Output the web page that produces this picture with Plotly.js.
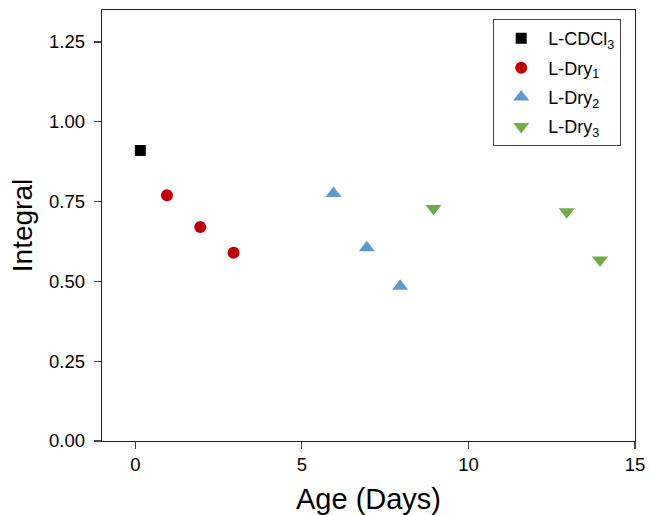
<!DOCTYPE html>
<html>
<head>
<meta charset="utf-8">
<script src="https://cdn.plot.ly/plotly-3.0.1.min.js"></script>
<style>html,body{margin:0;padding:0;background:#fff;}#chart{width:650px;height:515px;}</style>
</head>
<body>
<div id="chart"></div>
<script>
const seriesNames = ["L-CDCl<sub>3</sub>", "L-Dry<sub>1</sub>", "L-Dry<sub>2</sub>", "L-Dry<sub>3</sub>"];
const cdclAge = [0.15];
const cdclIntegral = [0.91];
const dry1Age = [0.95, 1.95, 2.95];
const dry1Integral = [0.77, 0.67, 0.59];
const dry2Age = [5.95, 6.95, 7.95];
const dry2Integral = [0.775, 0.605, 0.485];
const dry3Age = [8.95, 12.95, 13.95];
const dry3Integral = [0.728, 0.718, 0.567];
const xTicks = [0, 5, 10, 15];
const yTicks = [0, 0.25, 0.5, 0.75, 1.0, 1.25];

const font = "Liberation Sans, Arial, sans-serif";
const traces = [
  {x: cdclAge, y: cdclIntegral, name: seriesNames[0], legendgroup: "a", mode: "markers", type: "scatter",
   marker: {symbol: "square", size: 11, color: "#000000"}},
  {x: dry1Age, y: dry1Integral, name: seriesNames[1], legendgroup: "b", mode: "markers", type: "scatter",
   marker: {symbol: "circle", size: 12, color: "#C00000"}},
  {x: dry2Age, y: dry2Integral, name: seriesNames[2], legendgroup: "c", mode: "markers", type: "scatter",
   marker: {symbol: "triangle-up", size: 14, color: "#5B9BD5"}},
  {x: dry3Age, y: dry3Integral, name: seriesNames[3], legendgroup: "d", mode: "markers", type: "scatter",
   marker: {symbol: "triangle-down", size: 14, color: "#70AD47"}}
];
const axisCommon = {
  showgrid: false, zeroline: false, showline: true, mirror: true,
  linecolor: "#222", linewidth: 1.2, ticks: "outside", ticklen: 7, tickwidth: 1.2, tickcolor: "#444",
  tickfont: {family: font, size: 18.5, color: "#000"}
};
const layout = {
  width: 650, height: 515,
  margin: {l: 102, r: 15, t: 10, b: 74},
  paper_bgcolor: "#fff", plot_bgcolor: "#fff",
  font: {family: font, color: "#000"},
  showlegend: true,
  xaxis: Object.assign({}, axisCommon, {
    range: [-1, 15], tickvals: xTicks, ticktext: xTicks.map(String),
    title: {text: "Age (Days)", font: {family: font, size: 29}, standoff: 16}
  }),
  yaxis: Object.assign({}, axisCommon, {
    range: [0, 1.35], tickvals: yTicks, ticktext: yTicks.map(v => v.toFixed(2)),
    ticklabelstandoff: 5,
    title: {text: "Integral", font: {family: font, size: 28}, standoff: 8}
  }),
  legend: {
    x: 0.734, y: 0.979, xanchor: "left", yanchor: "top",
    bordercolor: "#444", borderwidth: 1, bgcolor: "#fff",
    font: {family: font, size: 18, color: "#000"},
    itemwidth: 44, tracegroupgap: 3
  }
};
Plotly.newPlot("chart", traces, layout, {staticPlot: true, displayModeBar: false});
</script>
</body>
</html>
